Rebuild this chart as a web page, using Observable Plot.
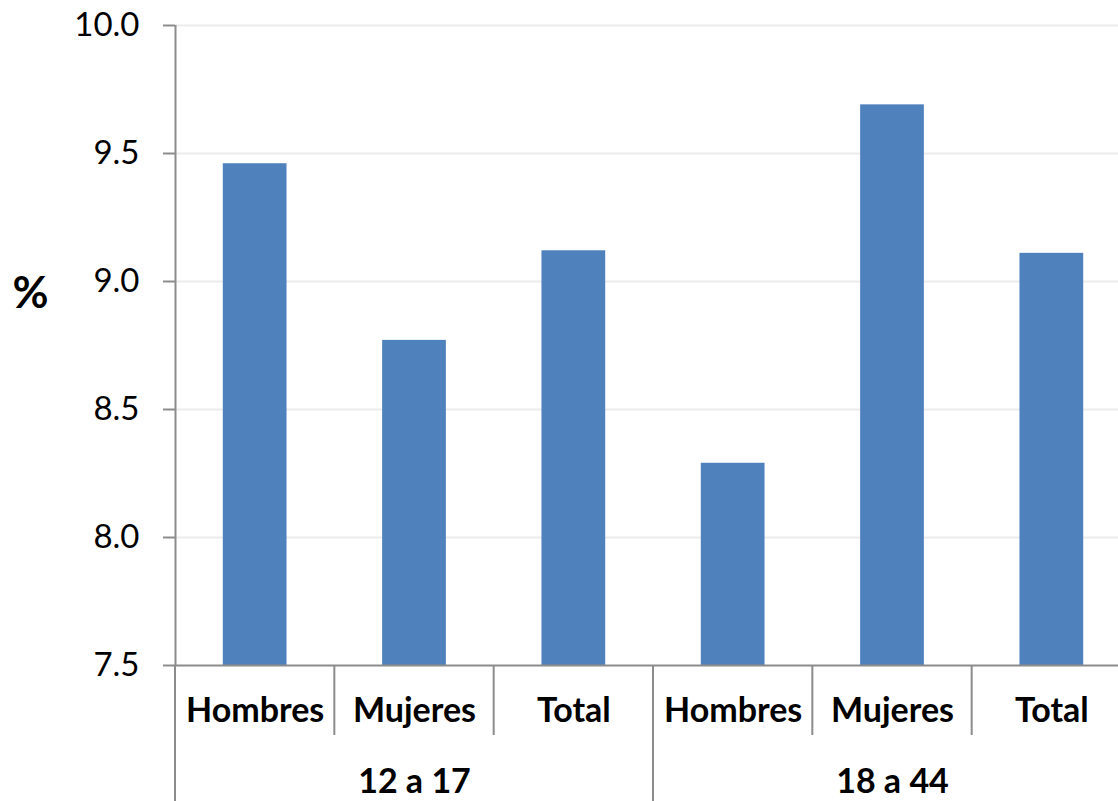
<!DOCTYPE html>
<html><head><meta charset="utf-8">
<script src="https://cdn.jsdelivr.net/npm/d3@7"></script>
<script src="https://cdn.jsdelivr.net/npm/@observablehq/plot@0.6"></script>
<style>html,body{margin:0;padding:0;overflow:hidden;background:#fff}</style>
</head><body><div id="chart"></div>
<script>
const groups = ["12 a 17", "18 a 44"];
const sexes = ["Hombres", "Mujeres", "Total"];
const values12a17 = [9.46, 8.77, 9.12];
const values18a44 = [8.29, 9.69, 9.11];
const yTicks = [7.5, 8.0, 8.5, 9.0, 9.5, 10.0];
const yLabel = "%";

const seriesByGroup = [values12a17, values18a44];
const data = [];
groups.forEach((g, gi) => sexes.forEach((s, si) =>
  data.push({group: g, sex: s, slot: gi * sexes.length + si, value: seriesByGroup[gi][si]})));
const nSlots = groups.length * sexes.length;

const axisColor = "#8c8c8c";
const gridColor = "#ececec";
const barColor = "#4f81bd";
const font = "Lato, 'Open Sans', sans-serif";

function separators(index, scales, values, dims) {
  const x = scales.x;
  const y0 = dims.height - dims.marginBottom;
  const g = d3.create("svg:g").attr("stroke", axisColor).attr("stroke-width", 2);
  for (let i = 0; i <= nSlots; i++) {
    const len = i % sexes.length === 0 ? dims.marginBottom : 70;
    g.append("line").attr("x1", x(i)).attr("x2", x(i)).attr("y1", y0).attr("y2", y0 + len);
  }
  return g.node();
}

const chart = Plot.plot({
  width: 1131,
  height: 801,
  marginLeft: 175,
  marginRight: 0,
  marginTop: 25,
  marginBottom: 136,
  style: {fontFamily: font, background: "#fff", maxWidth: "none"},
  x: {domain: [0, nSlots], axis: null},
  y: {domain: [7.5, 10], axis: null},
  marks: [
    Plot.ruleY(yTicks.filter(t => t > 7.5), {stroke: gridColor, strokeWidth: 2}),
    Plot.rectY(data, {x1: d => d.slot + 0.3, x2: d => d.slot + 0.7, y1: 7.5, y2: "value", fill: barColor}),
    Plot.axisY(yTicks, {tickSize: 12, tickPadding: 24, tickFormat: d3.format(".1f"), fontSize: 33, stroke: axisColor, strokeWidth: 2, fill: "#000", label: null}),
    Plot.ruleX([0], {stroke: axisColor, strokeWidth: 2}),
    Plot.ruleY([7.5], {stroke: axisColor, strokeWidth: 2}),
    separators,
    Plot.text(data, {x: d => d.slot + 0.5, text: "sex", frameAnchor: "bottom", dy: 56, fontSize: 34, fontWeight: "bold", fill: "#000"}),
    Plot.text(groups, {x: (d, i) => i * sexes.length + sexes.length / 2, text: d => d, frameAnchor: "bottom", dy: 127, fontSize: 34, fontWeight: "bold", fill: "#000"}),
    Plot.text([{label: yLabel, level: 9.0}], {y: "level", text: "label", frameAnchor: "left", textAnchor: "middle", dx: -145, dy: 12, fontSize: 44, fontWeight: "bold", fill: "#000"})
  ]
});
document.getElementById("chart").appendChild(chart);
</script>
</body></html>
